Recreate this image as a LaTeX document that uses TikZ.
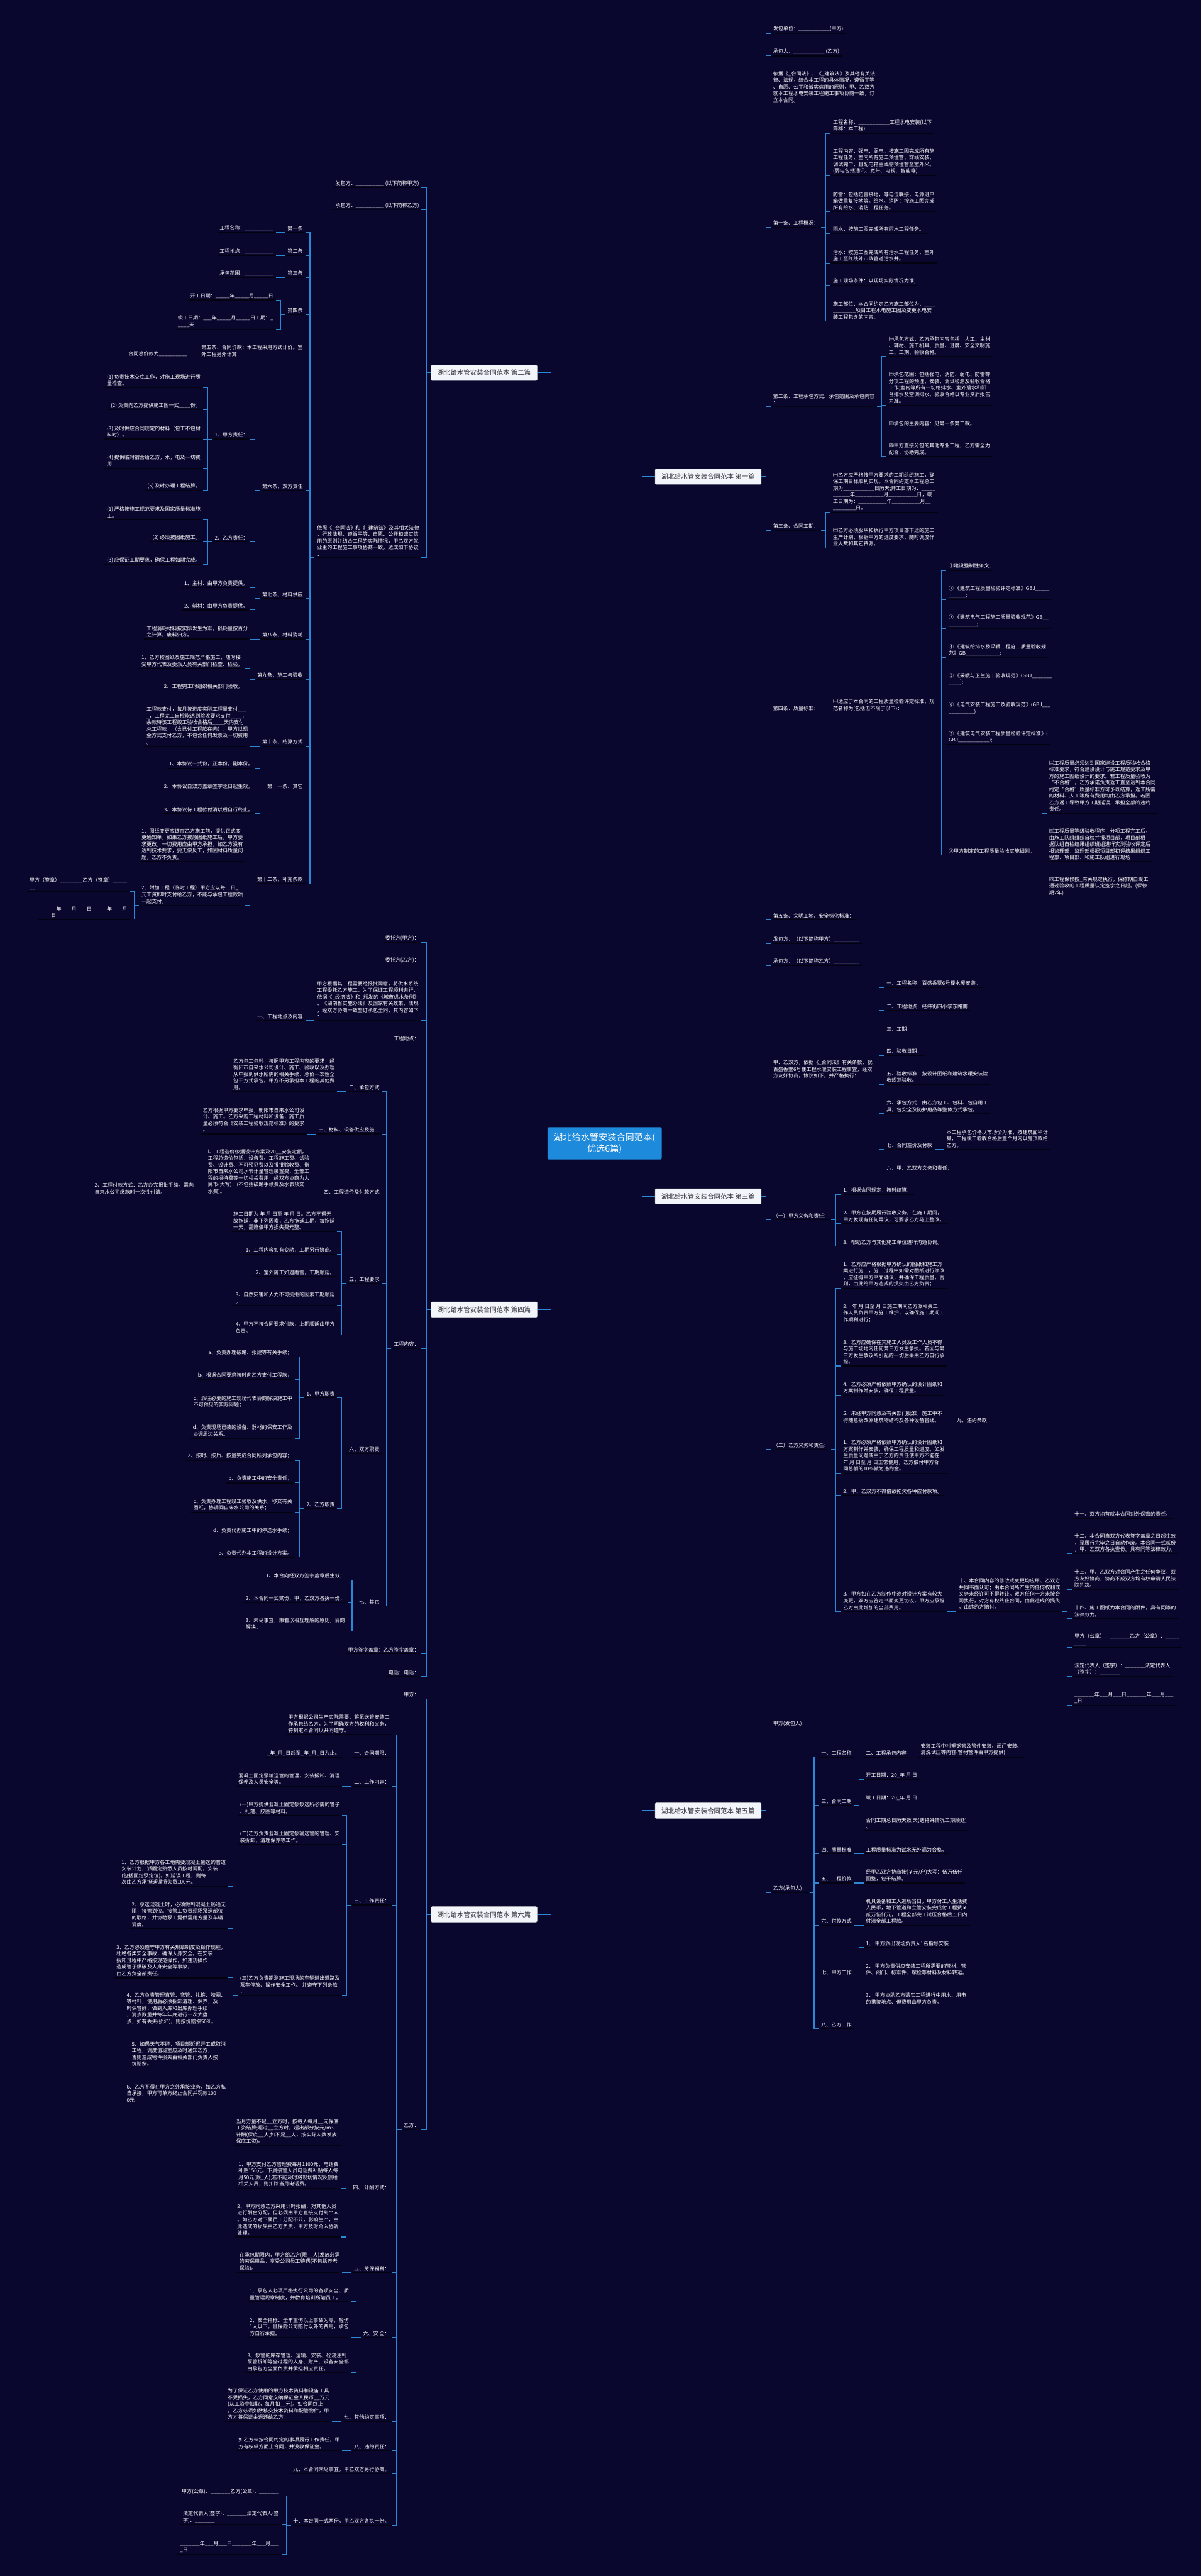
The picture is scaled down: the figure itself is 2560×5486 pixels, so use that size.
\documentclass[tikz,border=0pt]{standalone}
\usepackage{fontspec}
\setmainfont{Noto Sans CJK SC}
\usetikzlibrary{calc}
\definecolor{bgc}{RGB}{10,7,46}
\definecolor{lnc}{RGB}{45,135,215}
\definecolor{ulc}{RGB}{2,2,16}
\definecolor{rootc}{RGB}{30,138,220}
\definecolor{brc}{RGB}{242,245,250}
\definecolor{brt}{RGB}{45,45,55}
\pgfdeclarelayer{bglayer}
\pgfdeclarelayer{lnlayer}
\pgfsetlayers{bglayer,lnlayer,main}
\newcommand\leaffont{\fontsize{10.8}{14.1}\selectfont}
\tikzset{
  leaf/.style={text=white,font=\leaffont,align=left,inner xsep=5pt,inner ysep=3.5pt},
  conn/.style={draw=lnc,line width=1.5pt},
  uline/.style={draw=ulc,line width=1.8pt},
  branch/.style={fill=brc,draw=brc!80!black,line width=0.6pt,text=brt,font=\fontsize{14}{16}\selectfont,inner xsep=10pt,minimum height=33pt,minimum width=226pt,rounded corners=2pt},
  rootbox/.style={fill=rootc,text=white,font=\fontsize{19}{25}\selectfont,align=center,inner xsep=14pt,inner ysep=12pt,rounded corners=3pt}
}
% right child of a leaf
\newcommand\myR[4]{%
  \node[leaf,anchor=south west,xshift=20pt] (#1) at (#2.south east |- 0,#3) {#4};
  \draw[uline] (#1.south west) -- (#1.south east);
  \draw[conn] (#2.south east) -- ++(10pt,0) |- (#1.south west);}
% right child of a branch box
\newcommand\myRB[4]{%
  \node[leaf,anchor=south west,xshift=20pt] (#1) at (#2.east |- 0,#3) {#4};
  \draw[uline] (#1.south west) -- (#1.south east);
  \draw[conn] (#2.east) -- ++(10pt,0) |- (#1.south west);}
% left child of a leaf
\newcommand\myL[4]{%
  \node[leaf,anchor=south east,xshift=-20pt] (#1) at (#2.south west |- 0,#3) {#4};
  \draw[uline] (#1.south west) -- (#1.south east);
  \draw[conn] (#2.south west) -- ++(-10pt,0) |- (#1.south east);}
% left child of a branch box
\newcommand\myLB[4]{%
  \node[leaf,anchor=south east,xshift=-20pt] (#1) at (#2.west |- 0,#3) {#4};
  \draw[uline] (#1.south west) -- (#1.south east);
  \draw[conn] (#2.west) -- ++(-10pt,0) |- (#1.south east);}
\catcode`\_=12
\begin{document}
\begin{tikzpicture}[x=1pt,y=-1pt]
\useasboundingbox (0,0) rectangle (2560,5486);
\begin{pgfonlayer}{bglayer}
\fill[bgc] (0,0) rectangle (2560,5486);
\end{pgfonlayer}

\node[rootbox] (root) at (1288,2435) {湖北给水管安装合同范本(\\优选6篇)};
\node[branch,anchor=east] (b1) at (1622,1015) {湖北给水管安装合同范本 第一篇};
\node[branch,anchor=west] (b2) at (918,794) {湖北给水管安装合同范本 第二篇};
\node[branch,anchor=east] (b3) at (1622,2548) {湖北给水管安装合同范本 第三篇};
\node[branch,anchor=west] (b4) at (918,2789) {湖北给水管安装合同范本 第四篇};
\node[branch,anchor=east] (b5) at (1622,3856) {湖北给水管安装合同范本 第五篇};
\node[branch,anchor=west] (b6) at (918,4077) {湖北给水管安装合同范本 第六篇};
\begin{pgfonlayer}{lnlayer}
\draw[conn] ([xshift=-42pt]root.east) |- (b1.west);
\draw[conn] ([xshift=-42pt]root.east) |- (b3.west);
\draw[conn] ([xshift=-42pt]root.east) |- (b5.west);
\draw[conn] ([xshift=8pt]root.west) |- (b2.east);
\draw[conn] ([xshift=8pt]root.west) |- (b4.east);
\draw[conn] ([xshift=8pt]root.west) |- (b6.east);
\end{pgfonlayer}

% ===== 第一篇 =====
\myRB{a1}{b1}{71}{发包单位：___________(甲方)}
\myRB{a2}{b1}{119}{承包人：___________ (乙方)}
\myRB{a3}{b1}{222}{依据《_合同法》、《_建筑法》及其他有关法\\律、法规，结合本工程的具体情况，遵循平等\\、自愿、公平和诚实信用的原则，甲、乙双方\\就本工程水电安装工程施工事项协商一致，订\\立本合同。}
\myRB{a4}{b1}{484}{第一条、工程概况：}
\myR{a41}{a4}{284}{工程名称：___________工程水电安装(以下\\简称：本工程)}
\myR{a42}{a4}{374}{工程内容：强电、弱电：按施工图完成所有施\\工程任务，室内所有施工预埋管、穿线安装、\\调试完毕，且配电箱主线需预埋管至室外米。\\(弱电包括通讯、宽带、电视、智能等)}
\myR{a43}{a4}{451}{防雷：包括防雷接地，等电位联接，电源进户\\箱做重复接地等。给水、消防：按施工图完成\\所有给水、消防工程任务。}
\myR{a44}{a4}{497}{雨水：按施工图完成所有雨水工程任务。}
\myR{a45}{a4}{560}{污水：按施工图完成所有污水工程任务，室外\\施工至红线外市政管道污水井。}
\myR{a46}{a4}{608}{施工现场条件：以现场实际情况为准;}
\myR{a47}{a4}{684}{施工部位：本合同约定乙方施工部位为：____\\________项目工程水电施工图及变更水电安\\装工程包含的内容。}
\myRB{a5}{b1}{866}{第二条、工程承包方式、承包范围及承包内容\\：}
\myR{a51}{a5}{759}{㈠承包方式：乙方承包内容包括：人工、主材\\、辅材、施工机具、质量、进度、安全文明施\\工、工期、验收合格。}
\myR{a52}{a5}{863}{㈡承包范围：包括强电、消防、弱电、防雷等\\分项工程的预埋、安装，调试检测及验收合格\\工作;室内等所有一切给排水、室外落水和阳\\台排水及空调排水。验收合格以专业资质报告\\为准。}
\myR{a53}{a5}{911}{㈢承包的主要内容：见第一条第二款。}
\myR{a54}{a5}{972}{㈣甲方直接分包的其他专业工程，乙方需全力\\配合，协助完成。}
\myRB{a6}{b1}{1129}{第三条、合同工期：}
\myR{a61}{a6}{1091}{㈠乙方应严格按甲方要求的工期组织施工，确\\保工期目标顺利实现。本合同约定本工程总工\\期为___________日历天;开工日期为：_____\\______年__________月__________日，竣\\工日期为：__________年__________月__\\________日。}
\myR{a62}{a6}{1167}{㈡乙方必须服从和执行甲方项目部下达的施工\\生产计划，根据甲方的进度要求，随时调度作\\业人数和其它资源。}
\myRB{a7}{b1}{1518}{第四条、质量标准：}
\myR{a71}{a7}{1518}{㈠适应于本合同的工程质量检验评定标准、规\\范名称为(包括但不限于以下)：}
\myR{a711}{a71}{1215}{①建设强制性条文;}
\myR{a712}{a71}{1277}{② 《建筑工程质量检验评定标准》GBJ_____\\______;}
\myR{a713}{a71}{1339}{③ 《建筑电气工程施工质量验收规范》GB__\\__________;}
\myR{a714}{a71}{1401}{④ 《建筑给排水及采暖工程施工质量验收规\\范》GB____________;}
\myR{a715}{a71}{1463}{⑤ 《采暖与卫生施工验收规范》(GBJ_______\\____);}
\myR{a716}{a71}{1525}{⑥ 《电气安装工程施工及验收规范》(GBJ___\\_________)}
\myR{a717}{a71}{1586}{⑦ 《建筑电气安装工程质量检验评定标准》(\\GBJ___________);}
\myR{a718}{a71}{1821}{⑧甲方制定的工程质量验收实施细则。}
\myR{a7181}{a718}{1732}{㈡工程质量必须达到国家建设工程质验收合格\\标准要求，符合建设设计与施工规范要求及甲\\方的施工图纸设计的要求。若工程质量验收为\\“不合格”，乙方承诺负责返工直至达到本合同\\约定“合格”质量标准方可予以结算，返工所需\\的材料、人工等所有费用均由乙方承担。若因\\乙方返工导致甲方工期延误，承担全部的违约\\责任。}
\myR{a7182}{a718}{1835}{㈢工程质量等级验收程序：分项工程完工后，\\由施工队组组织自检并报项目部，项目部根\\据队组自检结果组织班组进行实测验收评定后\\报监理部，监理部根据项目部初评结果组织工\\程部、项目部、和施工队组进行现场}
\myR{a7183}{a718}{1911}{㈣工程保修按_有关规定执行，保修期自竣工\\通过验收的工程质量认定签字之日起。(保修\\期2年)}
\myRB{a8}{b1}{1959}{第五条、文明工地、安全标化标准：}

% ===== 第三篇 =====
\myRB{c1}{b3}{2009}{发包方：（以下简称甲方）_________}
\myRB{c2}{b3}{2056}{承包方：（以下简称乙方）_________}
\myRB{c3}{b3}{2300}{甲、乙双方，依据《_合同法》有关条款，就\\百盛香墅6号楼工程水暖安装工程事宜，经双\\方友好协商，协议如下，并严格执行：}
\myR{c31}{c3}{2103}{一、工程名称：百盛香墅6号楼水暖安装。}
\myR{c32}{c3}{2152}{二、工程地点：经纬街四小学东路南}
\myR{c33}{c3}{2200}{三、工期：}
\myR{c34}{c3}{2248}{四、验收日期：}
\myR{c35}{c3}{2309}{五、验收标准：按设计图纸和建筑水暖安装验\\收规范验收。}
\myR{c36}{c3}{2372}{六、承包方式：由乙方包工、包料、包自用工\\具，包安全及防护用品等整体方式承包。}
\myR{c37}{c3}{2448}{七、合同造价及付款}
\myR{c371}{c37}{2448}{本工程承包价格以市场价为准，按建筑面积计\\算，工程竣工验收合格后壹个月内以房顶款给\\乙方。}
\myR{c38}{c3}{2496}{八、甲、乙双方义务和责任：}
\myRB{c4}{b3}{2598}{（一）甲方义务和责任：}
\myR{c41}{c4}{2544}{1、根据合同规定，按时结算。}
\myR{c42}{c4}{2606}{2、甲方在按期履行验收义务，在施工期间，\\甲方发现有任何异议，可要求乙方马上整改。}
\myR{c43}{c4}{2654}{3、帮助乙方与其他施工单位进行沟通协调。}
\myRB{c5}{b3}{3087}{（二）乙方义务和责任：}
\myR{c51}{c5}{2744}{1、乙方应严格根据甲方确认的图纸和施工方\\案进行施工，施工过程中如需对图纸进行修改\\，应征得甲方书面确认，并确保工程质量，否\\则，由此给甲方造成的损失由乙方负责；}
\myR{c52}{c5}{2820}{2、 年 月 日至 月 日施工期间乙方派相关工\\作人员负责甲方施工维护，以确保施工期间工\\作顺利进行；}
\myR{c53}{c5}{2909}{3、乙方应确保在其施工人员及工作人员不得\\与施工场地内任何第三方发生争执。若因与第\\三方发生争议所引起的一切后果由乙方自行承\\担。}
\myR{c54}{c5}{2971}{4、乙方必须严格依照甲方确认的设计图纸和\\方案制作并安装，确保工程质量。}
\myR{c55}{c5}{3033}{5、未经甲方同意及有关部门批准，施工中不\\得随意拆改原建筑物结构及各种设备管线。}
\myR{c551}{c55}{3033}{九、违约条款}
\myR{c56}{c5}{3137}{1、乙方必须严格依照甲方确认的设计图纸和\\方案制作并安装，确保工程质量和进度。如发\\生质量问题或由于乙方的责任使甲方不能在\\年 月 日至 月 日正常使用，乙方偿付甲方合\\同总额的10\%做为违约金。}
\myR{c57}{c5}{3185}{2、甲、乙双方不得借故拖欠各种应付款项。}
\myR{c58}{c5}{3432}{3、甲方如在乙方制作中途对设计方案有较大\\变更，双方应签定书面变更协议，甲方应承担\\乙方由此增加的全部费用。}
\myR{c581}{c58}{3432}{十、本合同内容的修改或变更均应甲、乙双方\\共同书面认可；由本合同所产生的任何权利或\\义务未经许可不得转让。双方任何一方未按合\\同执行，对方有权终止合同，由此造成的损失\\，由违约方赔付。}
\myR{c5811}{c581}{3233}{十一、双方均有就本合同对外保密的责任。}
\myR{c5812}{c581}{3309}{十二、本合同自双方代表签字盖章之日起生效\\，至履行完毕之日自动作废。本合同一式贰份\\，甲、乙双方各执壹份。具有同等法律效力。}
\myR{c5813}{c581}{3385}{十三、甲、乙双方对合同产生之任何争议，双\\方友好协商，协商不成双方均有权申请人民法\\院判决。}
\myR{c5814}{c581}{3447}{十四、施工图纸为本合同的附件，具有同等的\\法律效力。}
\myR{c5815}{c581}{3508}{甲方（公章）：_______乙方（公章）：_____\\____}
\myR{c5816}{c581}{3570}{法定代表人（签字）：_______法定代表人\\（签字）：_______}
\myR{c5817}{c581}{3632}{_______年___月___日_______年___月___\\_日}

% ===== 第五篇 =====
\myRB{e1}{b5}{3680}{甲方(发包人)：}
\myRB{e2}{b5}{4031}{乙方(承包人)：}
\myR{e21}{e2}{3742}{一、工程名称}
\myR{e211}{e21}{3742}{二、工程承包内容}
\myR{e2111}{e211}{3742}{安装工程中衬塑钢管及管件安装、阀门安装、\\清洗试压等内容(管材管件由甲方提供)}
\myR{e22}{e2}{3845}{三、合同工期}
\myR{e221}{e22}{3790}{开工日期：20_年 月 日}
\myR{e222}{e22}{3838}{竣工日期：20_年 月 日}
\myR{e223}{e22}{3899}{合同工期总日历天数 天(遇特殊情况工期顺延)\\、}
\myR{e23}{e2}{3948}{四、质量标准}
\myR{e231}{e23}{3948}{工程质量标准为试水无外漏为合格。}
\myR{e24}{e2}{4010}{五、工程价款}
\myR{e241}{e24}{4010}{经甲乙双方协商按(￥元/户)大写：伍万伍仟\\圆整，包干结算。}
\myR{e25}{e2}{4100}{六、付款方式}
\myR{e251}{e25}{4100}{机具设备和工人进场当日，甲方付工人生活费\\人民币，地下管道和立管安装完成付工程费￥\\贰万伍仟元，工程全部完工试压合格后五日内\\付清全部工程款。}
\myR{e26}{e2}{4210}{七、甲方工作}
\myR{e261}{e26}{4148}{1、 甲方派出现场负责人1名指导安装}
\myR{e262}{e26}{4210}{2、 甲方负责供应安装工程所需要的管材、管\\件、阀门、标准件、螺栓等材料及材料转运。}
\myR{e263}{e26}{4272}{3、 甲方协助乙方落实工程进行中用水、用电\\的搭接地点、但费用由甲方负责。}
\myR{e27}{e2}{4320}{八、乙方工作}

% ===== 第二篇 =====
\myLB{d1}{b2}{400}{发包方：__________ (以下简称甲方)}
\myLB{d2}{b2}{447}{承包方：__________ (以下简称乙方)}
\myLB{d3}{b2}{1188}{依照《_合同法》和《_建筑法》及其相关法律\\，行政法规，遵循平等、自愿、公开和诚实信\\用的原则并结合工程的实际情况，甲乙双方就\\业主的工程施工事项协商一致，达成如下协议\\：}
\myL{d31}{d3}{495}{第一条}
\myL{d311}{d31}{495}{工程名称：__________}
\myL{d32}{d3}{544}{第二条}
\myL{d321}{d32}{544}{工程地点：__________}
\myL{d33}{d3}{591}{第三条}
\myL{d331}{d33}{591}{承包范围：__________}
\myL{d34}{d3}{670}{第四条}
\myL{d341}{d34}{639}{开工日期：_____年_____月_____日}
\myL{d342}{d34}{701}{竣工日期：___年_____月_____日工期：_\\____天}
\myL{d35}{d3}{763}{第五条、合同价款：本工程采用方式计价。室\\外工程另外计算}
\myL{d351}{d35}{763}{合同总价款为__________}
\myL{d36}{d3}{1044}{第六条、双方责任}
\myL{d361}{d36}{935}{1、甲方责任：}
\myL{d3611}{d361}{825}{(1) 负责技术交底工作，对施工现场进行质\\量检查。}
\myL{d3612}{d361}{873}{(2) 负责向乙方提供施工图一式____份。}
\myL{d3613}{d361}{935}{(3) 及时供应合同规定的材料（包工不包材\\料时）。}
\myL{d3614}{d361}{997}{(4) 提供临时宿舍给乙方，水，电及一切费\\用}
\myL{d3615}{d361}{1044}{(5) 及时办理工程结算。}
\myL{d362}{d36}{1154}{2、乙方责任：}
\myL{d3621}{d362}{1107}{(1) 严格按施工规范要求及国家质量标准施\\工。}
\myL{d3622}{d362}{1154}{(2) 必须按图纸施工。}
\myL{d3623}{d362}{1202}{(3) 应保证工期要求，确保工程如期完成。}
\myL{d37}{d3}{1275}{第七条、材料供应}
\myL{d371}{d37}{1251}{1、主材：由甲方负责提供。}
\myL{d372}{d37}{1299}{2、辅材：由甲方负责提供。}
\myL{d38}{d3}{1361}{第八条、材料消耗}
\myL{d381}{d38}{1361}{工程消耗材料按实际发生为准，损耗量按百分\\之计算，废料归方。}
\myL{d39}{d3}{1447}{第九条、施工与验收}
\myL{d391}{d39}{1423}{1、乙方按图纸及施工规范严格施工，随时接\\受甲方代表及委派人员有关部门检查、检验。}
\myL{d392}{d39}{1471}{2、工程完工时组织相关部门验收。}
\myL{d3a}{d3}{1589}{第十条、结算方式}
\myL{d3a1}{d3a}{1589}{工程款支付，每月按进度实际工程量支付___\\_，工程完工自检能达到验收要求支付____，\\余款待该工程竣工验收合格后____天内支付\\总工程款，（含已付工程款在内），甲方以现\\金方式支付乙方，不包含任何发票及一切费用\\。}
\myL{d3b}{d3}{1684}{第十一条、其它}
\myL{d3b1}{d3b}{1636}{1、本协议一式份，正本份，副本份。}
\myL{d3b2}{d3b}{1684}{2、本协议自双方盖章签字之日起生效。}
\myL{d3b3}{d3b}{1733}{3、本协议待工程款付清以后自行终止。}
\myL{d3c}{d3}{1882}{第十二条、补充条款}
\myL{d3c1}{d3c}{1835}{1、图纸变更应该在乙方施工前，提供正式变\\更通知单，如果乙方按原图纸施工后，甲方要\\求更改，一切费用应由甲方承担，如乙方没有\\达到技术要求，要无偿反工，如因材料质量问\\题，乙方不负责。}
\myL{d3c2}{d3c}{1928}{2、附加工程（临时工程）甲方应以每工日_\\元工资即时支付给乙方，不能与承包工程款项\\一起支付。}
\myL{d3c21}{d3c2}{1898}{甲方（签章）________乙方（签章）_____\\__}
\myL{d3c22}{d3c2}{1958}{　　　年　　月　　日　　　年　　月\\　　日}

% ===== 第四篇 =====
\myLB{g1}{b4}{2007}{委托方(甲方)：}
\myLB{g2}{b4}{2055}{委托方(乙方)：}
\myLB{g3}{b4}{2173}{甲方根据其工程需要经报批同意，将供水系统\\工程委托乙方施工，为了保证工程顺利进行，\\依据《_经济法》和_颁发的《城市供水条例》\\、《湖南省实施办法》及国家有关政策、法规\\，经双方协商一致签订承包全同，其内容如下\\：}
\myL{g31}{g3}{2173}{一、工程地点及内容}
\myLB{g4}{b4}{2221}{工程地点：}
\myLB{g5}{b4}{2872}{工程内容：}
\myL{g51}{g5}{2325}{二、承包方式}
\myL{g511}{g51}{2325}{乙方包工包料，按照甲方工程内容的要求，经\\衡阳市自来水公司设计、施工、验收以及办理\\从申报到供水所需的相关手续，总价一次性全\\包干方式承包。甲方不另承担本工程的其他费\\用。}
\myL{g52}{g5}{2415}{三、材料、设备供应及施工}
\myL{g521}{g52}{2415}{乙方根据甲方要求申报，衡阳市自来水公司设\\计、施工。乙方采购工程材料和设备，施工质\\量必须符合《安装工程验收规范标准》的要求\\。}
\myL{g53}{g5}{2547}{四、工程造价及付款方式}
\myL{g531}{g53}{2547}{l、工程造价依据设计方案及20__安装定额，\\工程总造价包括：设备费、工程施工费、试验\\费、设计费、不可预见费以及报批验收费、衡\\阳市自来水公司水表计量管理装置费，全部工\\程的招待费等一切相关费用，经双方协商为人\\民币(大写)：(不包括破路手续费及水表预交\\水费)。}
\myL{g5311}{g531}{2547}{2、工程付款方式：乙方办完报批手续，需向\\自来水公司缴款时一次性付清。}
\myL{g54}{g5}{2733}{五、工程要求}
\myL{g541}{g54}{2623}{施工日期为 年 月 日至 年 月 日。乙方不得无\\故拖延，非下列因素，乙方拖延工期，每拖延\\一天，需赔偿甲方损失费元整。}
\myL{g542}{g54}{2671}{1、工程内容如有变动，工期另行协商。}
\myL{g543}{g54}{2719}{2、室外施工如遇雨雪，工期顺延。}
\myL{g544}{g54}{2780}{3、自然灾害和人力不可抗拒的因素工期顺延\\。}
\myL{g545}{g54}{2843}{4、甲方不按合同要求付款，上期顺延由甲方\\负责。}
\myL{g55}{g5}{3095}{六、双方职责}
\myL{g551}{g55}{2977}{1、甲方职责}
\myL{g5511}{g551}{2890}{a、负责办理破路、报建等有关手续；}
\myL{g5512}{g551}{2938}{b、根据合同要求按时向乙方支付工程款；}
\myL{g5513}{g551}{3001}{c、派往必要的施工现场代表协商解决施工中\\不可预见的实际问题；}
\myL{g5514}{g551}{3063}{d、负责现场已装的设备、器材的保安工作及\\协调周边关系。}
\myL{g552}{g55}{3213}{2、乙方职责}
\myL{g5521}{g552}{3110}{a、按时、按质、按量完成合同所列承包内容；}
\myL{g5522}{g552}{3158}{b、负责施工中的安全责任；}
\myL{g5523}{g552}{3221}{c、负责办理工程竣工验收及供水，移交有关\\图纸，协调同自来水公司的关系；}
\myL{g5524}{g552}{3269}{d、负责代办施工中的停送水手续；}
\myL{g5525}{g552}{3316}{e、负责代办本工程的设计方案。}
\myL{g56}{g5}{3420}{七、其它}
\myL{g561}{g56}{3365}{1、本合向经双方签字盖章后生效；}
\myL{g562}{g56}{3413}{2、本合同一式贰份，甲、乙双方各执一份；}
\myL{g563}{g56}{3474}{3、未尽事宜，秉着以相互理解的原则，协商\\解决。}
\myLB{g6}{b4}{3522}{甲方签字盖章：乙方签字盖章：}
\myLB{g7}{b4}{3570}{电话：电话：}

% ===== 第六篇 =====
\myLB{f1}{b6}{3618}{甲方：}
\myLB{f2}{b6}{4535}{乙方：}
\myL{f21}{f2}{3694}{甲方根据公司生产实际需要，将泵送管安装工\\作承包给乙方，为了明确双方的权利和义务，\\特制定本合同以共同遵守。}
\myL{f22}{f2}{3742}{一、合同期限：}
\myL{f221}{f22}{3742}{_年_月_日起至_年_月_日为止。}
\myL{f23}{f2}{3804}{二、工作内容：}
\myL{f231}{f23}{3804}{混凝土固定泵输送管的管理，安装拆卸、清理\\保养及人员安全等。}
\myL{f24}{f2}{4057}{三、工作责任：}
\myL{f241}{f24}{3866}{(一)甲方提供混凝土固定泵泵送所必需的管子\\、扎箍、胶圈等材料。}
\myL{f242}{f24}{3928}{(二)乙方负责混凝土固定泵输送管的管理、安\\装拆卸、清理保养等工作。}
\myL{f243}{f24}{4249}{(三)乙方负责勘测施工现场的车辆进出道路及\\泵车停放、操作安全工作。 并遵守下列条款\\：}
\myL{f2431}{f243}{4017}{1、乙方根据甲方各工地需要混凝土输送的管道\\安装计划，派固定熟悉人员按时调配，安装\\(包括固定泵定位)。如延误工程，则每\\次由乙方承担延误损失费100元。}
\myL{f2432}{f243}{4107}{2、泵送混凝土时，必须做到混凝土畅通无\\阻，接管到位。接管工负责现场泵送部位\\的联络，并协助泵工提供需用方量及车辆\\调度。}
\myL{f2433}{f243}{4212}{3、乙方必须遵守甲方有关规章制度及操作规程，\\杜绝各类安全事故，确保人身安全。在安装\\拆卸过程中严格按规范操作，如违规操作\\造成管子爆破及人身安全等事故，\\由乙方负全部责任。}
\myL{f2434}{f243}{4315}{4、乙方负责管理直管、弯管、扎箍、胶圈、\\等材料，使用后必须拆卸清理、保养，及\\时保管好，做到入库和出库办理手续\\，清点数量并每年年底进行一次大盘\\点，如有丢失(损坏)，则按价赔偿50\%。}
\myL{f2435}{f243}{4404}{5、如遇天气不好，项目部延迟开工或取消\\工程，调度值班室应及时通知乙方，\\否则造成物件损失由相关部门负责人按\\价赔偿。}
\myL{f2436}{f243}{4481}{6、乙方不得在甲方之外承接业务，如乙方私\\自承接，甲方可单方终止合同并罚款100\\0元。}
\myL{f25}{f2}{4668}{四、 计酬方式：}
\myL{f251}{f25}{4570}{当月方量不足__立方时，按每人每月__元保底\\工资结算;超过__立方时，超出部分按元/m3\\计酬(保底__人,如不足__人，按实际人数发放\\保底工资)。}
\myL{f252}{f25}{4660}{1、甲方支付乙方管理费每月1100元，电话费\\补贴150元。下属接管人员电话费补贴每人每\\月50元(限_人);若不能及时将现场情况反馈给\\相关人员，则扣除当月电话费。}
\myL{f253}{f25}{4764}{2、甲方同意乙方采用计时报酬，对其他人员\\进行酬金分配，但必须由甲方直接支付到个人\\。如乙方对下属员工分配不公，影响生产，由\\此造成的损失由乙方负责，甲方及时介入协调\\处理。}
\myL{f26}{f2}{4840}{五、劳保福利：}
\myL{f261}{f26}{4840}{在承包期限内，甲方给乙方(限__人)发放必需\\的劳保用品，享受公司员工待遇(不包括养老\\保险)。}
\myL{f27}{f2}{4978}{六、安 全：}
\myL{f271}{f27}{4902}{1、承包人必须严格执行公司的各项安全、质\\量管理规章制度，并教育培训所辖员工。}
\myL{f272}{f27}{4978}{2、安全指标：全年重伤以上事故为零，轻伤\\1人以下。且保险公司赔付以外的费用，承包\\方自行承担。}
\myL{f273}{f27}{5053}{3、泵管的库存管理、运输、安装、砼浇注到\\泵管拆卸等全过程的人身、财产、设备安全都\\由承包方全面负责并承担相应责任。}
\myL{f28}{f2}{5157}{七、其他约定事项：}
\myL{f281}{f28}{5157}{为了保证乙方使用的甲方技术资料和设备工具\\不受损失，乙方同意交纳保证金人民币__万元\\(从工资中扣取，每月扣__元)。如合同终止\\，乙方必须如数移交技术资料和配管物件，甲\\方才将保证金退还给乙方。}
\myL{f29}{f2}{5219}{八、违约责任：}
\myL{f291}{f29}{5219}{如乙方未按合同约定的事项履行工作责任，甲\\方有权单方面止合同，并没收保证金。}
\myL{f2a}{f2}{5268}{九、本合同未尽事宜，甲乙双方另行协商。}
\myL{f2b}{f2}{5378}{十、本合同一式两份，甲乙双方各执一份。}
\myL{f2b1}{f2b}{5315}{甲方(公章)：_______乙方(公章)：_______}
\myL{f2b2}{f2b}{5377}{法定代表人(签字)：_______法定代表人(签\\字)：_______}
\myL{f2b3}{f2b}{5440}{_______年___月___日_______年___月___\\_日}
\end{tikzpicture}
\end{document}
